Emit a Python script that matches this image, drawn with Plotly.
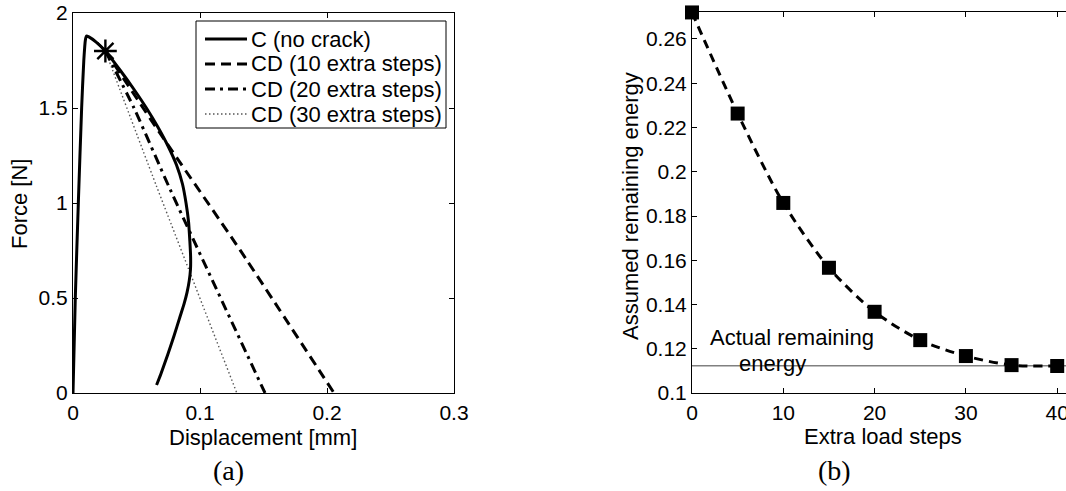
import plotly.graph_objects as go

# ---------------- data ----------------
# (a) force-displacement curves
c_disp = [0, 0.0018, 0.0042, 0.0068, 0.0085, 0.0098, 0.0106, 0.0125, 0.018, 0.0255,
          0.037, 0.0478, 0.0578, 0.0668, 0.0748, 0.0815, 0.0862, 0.0890,
          0.0910, 0.0920, 0.0926, 0.0925, 0.0915, 0.0898, 0.0875, 0.0842,
          0.0795, 0.0745, 0.0692, 0.0658]
c_force = [0, 0.5, 1.0, 1.5, 1.75, 1.86, 1.879, 1.874, 1.848, 1.80,
           1.70, 1.60, 1.50, 1.40, 1.30, 1.20, 1.10, 1.00,
           0.90, 0.80, 0.72, 0.65, 0.59, 0.53, 0.47, 0.40,
           0.30, 0.20, 0.10, 0.042]

cd10_disp = [0.0255, 0.0685, 0.1315, 0.2055]
cd10_force = [1.80, 1.367, 0.753, 0.0]

cd20_disp = [0.0255, 0.048, 0.0766, 0.1512]
cd20_force = [1.80, 1.50, 1.07, 0.0]

cd30_disp = [0.0255, 0.0659, 0.129]
cd30_force = [1.80, 1.086, 0.0]

star_disp = [0.0255]
star_force = [1.80]

series_names = ["C (no crack)", "CD (10 extra steps)",
                "CD (20 extra steps)", "CD (30 extra steps)"]

# (b) assumed remaining energy vs extra load steps
extra_steps = [0, 5, 10, 15, 20, 25, 30, 35, 40]
assumed_energy = [0.272, 0.2263, 0.1859, 0.1566, 0.1367, 0.1239, 0.1167, 0.1126, 0.1122]
actual_energy = 0.1123

# tick labels
a_xticks = [0, 0.1, 0.2, 0.3]
a_xlabels = ["0", "0.1", "0.2", "0.3"]
a_yticks = [0, 0.5, 1, 1.5, 2]
a_ylabels = ["0", "0.5", "1", "1.5", "2"]
b_xticks = [0, 10, 20, 30, 40]
b_xlabels = ["0", "10", "20", "30", "40"]
b_yticks = [0.1, 0.12, 0.14, 0.16, 0.18, 0.2, 0.22, 0.24, 0.26]
b_ylabels = ["0.1", "0.12", "0.14", "0.16", "0.18", "0.2", "0.22", "0.24", "0.26"]

# ---------------- layout helpers ----------------
W, H = 1066, 491
SANS = "Liberation Sans, Arial, Helvetica, sans-serif"
SERIF = "Liberation Serif, Times New Roman, serif"
FS = 22      # titles and legend
TFS = 21     # tick labels


def px_x(x):
    return x / W


def px_y(y):
    return 1 - y / H


styles = [
    dict(color="black", width=3, dash="solid"),
    dict(color="black", width=3, dash="10px,6px"),
    dict(color="black", width=3, dash="10px,5px,3px,5px"),
    dict(color="#555555", width=1.4, dash="1.5px,2.5px"),
]

fig = go.Figure()

curves = [(c_disp, c_force), (cd10_disp, cd10_force),
          (cd20_disp, cd20_force), (cd30_disp, cd30_force)]
# draw dotted first so thicker lines sit on top
for idx in [3, 2, 1, 0]:
    xs, ys = curves[idx]
    fig.add_trace(go.Scatter(
        x=xs, y=ys, mode="lines", name=series_names[idx],
        line=dict(shape="spline", smoothing=0.6, **styles[idx]),
        xaxis="x", yaxis="y", showlegend=False, cliponaxis=False))

fig.add_trace(go.Scatter(
    x=star_disp, y=star_force, mode="markers",
    marker=dict(symbol="asterisk-open", size=19, color="black",
                line=dict(color="black", width=2.4)),
    xaxis="x", yaxis="y", showlegend=False, cliponaxis=False))

fig.add_trace(go.Scatter(
    x=extra_steps, y=assumed_energy, mode="lines+markers",
    line=dict(color="black", width=3, dash="9px,6px", shape="spline", smoothing=0.8),
    marker=dict(symbol="square", size=14, color="black"),
    xaxis="x2", yaxis="y2", showlegend=False, cliponaxis=False))

axis_common = dict(showgrid=False, zeroline=False, showline=True,
                   linecolor="black", linewidth=1, ticks="inside",
                   ticklen=5, tickcolor="black",
                   tickfont=dict(family=SANS, size=TFS, color="black"),
                   ticklabeloverflow="allow", automargin=False)

fig.update_layout(
    width=W, height=H, autosize=False,
    margin=dict(l=0, r=0, t=0, b=0),
    paper_bgcolor="white", plot_bgcolor="white",
    showlegend=False,
    xaxis=dict(domain=[px_x(73), px_x(454)], range=[0, 0.3],
               tickvals=a_xticks, ticktext=a_xlabels, mirror="ticks",
               ticklabelstandoff=1, anchor="y", **axis_common),
    yaxis=dict(domain=[px_y(393), px_y(13)], range=[0, 2],
               tickvals=a_yticks, ticktext=a_ylabels, mirror="ticks",
               anchor="x", **axis_common),
    xaxis2=dict(domain=[px_x(692), 1], range=[0, (W - 692) / 9.13],
                tickvals=b_xticks, ticktext=b_xlabels, mirror="ticks",
                ticklabelstandoff=1, anchor="y2", **axis_common),
    yaxis2=dict(domain=[px_y(393), px_y(12)], range=[0.1, 0.2722],
                tickvals=b_yticks, ticktext=b_ylabels, mirror=False,
                anchor="x2", **axis_common),
)

shapes = [
    # actual remaining energy reference line in panel (b)
    dict(type="line", xref="x2 domain", yref="y2", x0=0, x1=1,
         y0=actual_energy, y1=actual_energy,
         line=dict(color="#808080", width=1.5), layer="below"),
    # legend box for panel (a)
    dict(type="rect", xref="paper", yref="paper",
         x0=px_x(196), x1=px_x(446), y0=px_y(128), y1=px_y(21),
         line=dict(color="black", width=1), fillcolor="white", layer="above"),
]
annotations = []
row_y = [39, 64, 89, 114]
for name, st, ry in zip(series_names, styles, row_y):
    shapes.append(dict(type="line", xref="paper", yref="paper",
                       x0=px_x(205), x1=px_x(247), y0=px_y(ry), y1=px_y(ry),
                       line=dict(color=st["color"], width=st["width"], dash=st["dash"]),
                       layer="above"))
    annotations.append(dict(text=name, xref="paper", yref="paper",
                            x=px_x(249), y=px_y(ry), xanchor="left", yanchor="middle",
                            showarrow=False,
                            font=dict(family=SANS, size=FS, color="black")))


def label(text, x, y, angle=0, font=SANS, size=FS):
    annotations.append(dict(text=text, xref="paper", yref="paper",
                            x=px_x(x), y=px_y(y), xanchor="center", yanchor="middle",
                            textangle=angle, showarrow=False,
                            font=dict(family=font, size=size, color="black")))


label("Displacement [mm]", 263, 437)
label("Force [N]", 20, 204, angle=-90)
label("Extra load steps", 883, 436)
label("Assumed remaining energy", 630, 206, angle=-90)
label("Actual remaining", 792, 337)
label("energy", 772, 363)
label("(a)", 228, 470, font=SERIF, size=28)
label("(b)", 834, 470, font=SERIF, size=28)

fig.update_layout(shapes=shapes, annotations=annotations)

fig.write_html("out.html")
